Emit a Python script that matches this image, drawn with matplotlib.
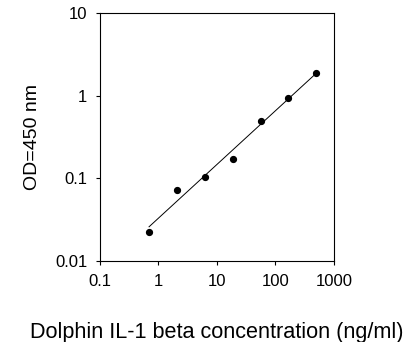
import numpy as np
import matplotlib
matplotlib.use("Agg")
from matplotlib import pyplot as plt
from matplotlib.ticker import FixedLocator, FixedFormatter, NullLocator

plt.rcParams['font.family'] = ['Liberation Sans', 'DejaVu Sans']

# standard curve (3-fold dilutions)
conc = [0.69, 2.06, 6.17, 18.5, 55.6, 166.7, 500]
od = [0.0223, 0.072, 0.105, 0.172, 0.49, 0.946, 1.87]

x_ticks = [0.1, 1, 10, 100, 1000]
x_labels = ['0.1', '1', '10', '100', '1000']
y_ticks = [0.01, 0.1, 1, 10]
y_labels = ['0.01', '0.1', '1', '10']

fig = plt.figure(figsize=(4.13, 3.42), dpi=100)
ax = fig.add_axes([0.2421, 0.2368, 0.5666, 0.7251])

# power fit in log space
lx = np.log10(conc)
ly = np.log10(od)
k, b = np.polyfit(lx, ly, 1)
fx = np.array([conc[0], conc[-1]])
fy = 10 ** (k * np.log10(fx) + b)
ax.plot(fx, fy, color='black', lw=0.7)
ax.plot(conc, od, 'o', color='black', ms=4.2)

ax.set_xscale('log')
ax.set_yscale('log')
ax.set_xlim(0.1, 1000)
ax.set_ylim(0.01, 10)
ax.xaxis.set_major_locator(FixedLocator(x_ticks))
ax.xaxis.set_major_formatter(FixedFormatter(x_labels))
ax.yaxis.set_major_locator(FixedLocator(y_ticks))
ax.yaxis.set_major_formatter(FixedFormatter(y_labels))
ax.xaxis.set_minor_locator(NullLocator())
ax.yaxis.set_minor_locator(NullLocator())
ax.tick_params(direction='out', length=3, width=0.8, labelsize=12, pad=6)
for s in ax.spines.values():
    s.set_linewidth(0.8)

ax.set_xlabel('Dolphin IL-1 beta concentration (ng/ml)', fontsize=15.6, labelpad=24)
ax.set_ylabel('OD=450 nm', fontsize=14, labelpad=10)

fig.savefig('out.png', dpi=100)
